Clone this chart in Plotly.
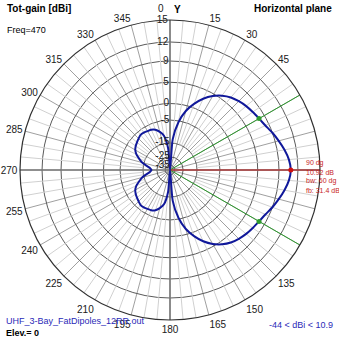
import numpy as np
import plotly.graph_objects as go

# Azimuth (deg, compass, clockwise from Y) and total gain (dBi)
azimuth_deg = list(range(0, 360, 5)) + [360]
gain_dbi = [
    -44, -13, -5.5, -1.5, 1.0, 3.0, 4.5, 5.6, 6.4, 6.9, 7.3, 7.6,
    7.92, 8.35, 9.0, 9.6, 10.2, 10.7, 10.92, 10.7, 10.2, 9.6, 9.0, 8.35,
    7.92, 7.6, 7.3, 6.9, 6.4, 5.6, 4.5, 3.0, 1.0, -1.5, -5.5, -13,
    -44, -18, -11, -9, -7.6, -7, -6.8, -6.5, -6.5, -7, -7.5, -8,
    -8.7, -10, -12, -14, -17, -19.5, -20.5, -19.5, -17, -14, -12, -10,
    -8.7, -8, -7.5, -7, -6.5, -6.5, -6.8, -7, -7.6, -9, -11, -18,
    -44,
]

# Scale rings (dBi) and their labels
ring_db = [15, 12, 9, 5, 0, -5, -15, -25, -35]
ring_labels = ["15", "12", "9", "5", "0", "-5", "-15", "-25", "-35"]

# Azimuth tick labels every 15 deg (right side carries the beam notes instead)
az_ticks = list(range(0, 360, 15))
az_labels = ["" if a in (0, 60, 75, 90, 105, 120) else str(a) for a in az_ticks]

# Marker summary
max_az, max_gain = 90, 10.92
bw_edges = [60, 120]
bw_gain = 7.92
scale_top, scale_min = 15, -44


def to_r(db):
    """Log-style radial scale: scale_top maps to 1, scale_min to 0."""
    db = np.asarray(db, dtype=float)
    c = np.exp(-0.05 * (scale_top - scale_min))
    return np.clip((np.exp(-0.05 * (scale_top - db)) - c) / (1 - c), 0, 1)


FONT = "Liberation Sans, Arial, sans-serif"
fig = go.Figure()

# minor spokes every 5 deg
for a in range(0, 360, 5):
    if a % 15:
        fig.add_trace(go.Scatterpolar(
            r=[to_r(-15), 1], theta=[a, a], mode="lines",
            line=dict(color="#d0d0d0", width=1), hoverinfo="skip", showlegend=False))

# main axes
for a in (0, 90):
    fig.add_trace(go.Scatterpolar(
        r=[1, 0, 1], theta=[a, 0, a + 180], mode="lines",
        line=dict(color="#7a7a7a", width=1.6), hoverinfo="skip", showlegend=False))

# beamwidth and max direction lines
for a in bw_edges:
    fig.add_trace(go.Scatterpolar(
        r=[0, 1], theta=[a, a], mode="lines",
        line=dict(color="#2e9a2e", width=1), hoverinfo="skip", showlegend=False))
fig.add_trace(go.Scatterpolar(
    r=[0, 1], theta=[max_az, max_az], mode="lines",
    line=dict(color="#c81e1e", width=1), hoverinfo="skip", showlegend=False))

# pattern
fig.add_trace(go.Scatterpolar(
    r=to_r(gain_dbi), theta=azimuth_deg, mode="lines",
    line=dict(color="#10189a", width=2, shape="spline", smoothing=0.6),
    hoverinfo="skip", showlegend=False))

# -3 dB points and max point
fig.add_trace(go.Scatterpolar(
    r=to_r([bw_gain, bw_gain]), theta=bw_edges, mode="markers",
    marker=dict(color="#2e9a2e", size=5), hoverinfo="skip", showlegend=False))
fig.add_trace(go.Scatterpolar(
    r=to_r([max_gain]), theta=[max_az], mode="markers",
    marker=dict(color="#d01010", size=5), hoverinfo="skip", showlegend=False))

# ring labels along the 0 deg axis
fig.add_trace(go.Scatterpolar(
    r=to_r(ring_db), theta=[359.2] * len(ring_db), mode="text",
    text=ring_labels, textposition="middle left",
    textfont=dict(family=FONT, size=10, color="#202020"),
    hoverinfo="skip", showlegend=False))

# text near the beam markers
fig.add_trace(go.Scatterpolar(
    r=[1.02, 1.01], theta=[bw_edges[0] - 3.5, bw_edges[1] + 3.5], mode="text",
    text=[f"{bw_edges[0]} dg", f"{bw_edges[1]} dg"], textposition="middle left",
    textfont=dict(family=FONT, size=7, color="#2e9a2e"),
    hoverinfo="skip", showlegend=False))

fig.update_layout(
    width=339, height=339,
    margin=dict(l=0, r=0, t=0, b=0),
    paper_bgcolor="white",
    polar=dict(
        domain=dict(x=[20 / 339, 320 / 339], y=[19 / 339, 319 / 339]),
        bgcolor="white",
        angularaxis=dict(
            rotation=90, direction="clockwise",
            tickmode="array", tickvals=az_ticks, ticktext=az_labels,
            showgrid=True, gridcolor="#a0a0a0", gridwidth=1,
            showline=True, linecolor="#303030", linewidth=1.2,
            ticks="", tickfont=dict(family=FONT, size=10, color="#202020"),
        ),
        radialaxis=dict(
            range=[0, 1], tickmode="array", tickvals=list(to_r(ring_db)),
            showticklabels=False, ticks="", showline=False,
            showgrid=True, gridcolor="#5a5a5a", gridwidth=1,
        ),
    ),
)

ann = [
    dict(x=5, y=8, text="<b>Tot-gain [dBi]</b>", size=10, color="black", xanchor="left"),
    dict(x=5, y=30, text="Freq=470", size=9, color="black", xanchor="left"),
    dict(x=334, y=8, text="<b>Horizontal plane</b>", size=10, color="black", xanchor="right"),
    dict(x=161, y=8, text="0", size=10, color="#202020", xanchor="center"),
    dict(x=177, y=9, text="<b>Y</b>", size=10, color="black", xanchor="center"),
    dict(x=4, y=321, text="UHF_3-Bay_FatDipoles_12RR.out", size=9, color="#2a2ab8", xanchor="left"),
    dict(x=4, y=333, text="<b>Elev.= 0</b>", size=9, color="black", xanchor="left"),
    dict(x=335, y=325, text="-44 < dBi < 10.9", size=9, color="#2a2ab8", xanchor="right"),
    dict(x=304, y=163, text=f"{max_az} dg", size=7, color="#c81e1e", xanchor="left"),
    dict(x=304, y=172, text=f"{max_gain:.2f} dB", size=7, color="#c81e1e", xanchor="left"),
    dict(x=304, y=181, text="bw: 60 dg", size=7, color="#c81e1e", xanchor="left"),
    dict(x=304, y=190, text="fb: 31.4 dB", size=7, color="#c81e1e", xanchor="left"),
]
for a in ann:
    fig.add_annotation(
        x=a["x"] / 339, y=1 - a["y"] / 339, xref="paper", yref="paper",
        text=a["text"], showarrow=False, xanchor=a["xanchor"], yanchor="middle",
        font=dict(family=FONT, size=a["size"], color=a["color"]))

fig.write_html("out.html")
